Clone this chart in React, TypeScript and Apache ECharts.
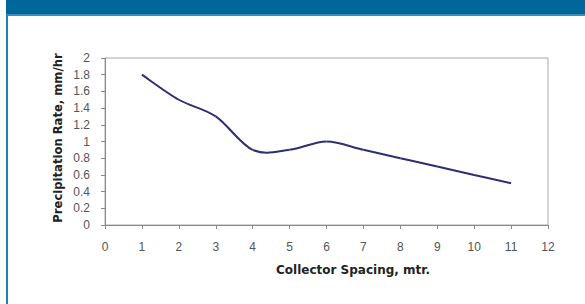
import React, { useEffect, useRef } from "react";
import * as echarts from "echarts";

const spacing = [1, 2, 3, 4, 5, 6, 7, 8, 9, 10, 11];
const rate = [1.8, 1.5, 1.3, 0.9, 0.9, 1.0, 0.9, 0.8, 0.7, 0.6, 0.5];
const xTitle = "Collector Spacing, mtr.";
const yTitle = "Precipitation Rate, mm/hr";

export default function App() {
  const ref = useRef<HTMLDivElement>(null);
  useEffect(() => {
    if (!ref.current) return;
    const chart = echarts.init(ref.current, undefined, { renderer: "svg" });
    const font = "'Liberation Sans', Arial, sans-serif";
    const titleFont = "'DejaVu Sans', sans-serif";
    const n = spacing.length;
    const tension = 1 / 6;
    chart.setOption({
      animation: false,
      backgroundColor: "#ffffff",
      grid: {
        left: 105,
        right: 37,
        top: 58,
        bottom: 79,
        show: true,
        borderColor: "#a8a8a8",
        borderWidth: 1,
      },
      xAxis: {
        type: "value",
        min: 0,
        max: 12,
        interval: 1,
        splitLine: { show: false },
        axisLine: { lineStyle: { color: "#8a8a8a", width: 1 } },
        axisTick: { show: true, length: 4, lineStyle: { color: "#8a8a8a" } },
        axisLabel: { color: "#555", fontSize: 12, fontFamily: font, margin: 16 },
      },
      yAxis: {
        type: "value",
        min: 0,
        max: 2,
        interval: 0.2,
        splitLine: { show: false },
        axisLine: { show: true, lineStyle: { color: "#8a8a8a", width: 1 } },
        axisTick: { show: true, length: 4, lineStyle: { color: "#8a8a8a" } },
        axisLabel: { color: "#555", fontSize: 12, fontFamily: font, margin: 15 },
      },
      series: [
        {
          type: "custom",
          data: spacing.map((x, i) => [x, rate[i]]),
          encode: { x: 0, y: 1 },
          renderItem: (params: any, api: any) => {
            const i = params.dataIndex;
            if (i >= n - 1) return null;
            const p = (k: number) => {
              const j = Math.max(0, Math.min(n - 1, k));
              return api.coord([spacing[j], rate[j]]);
            };
            const p0 = p(i - 1);
            const p1 = p(i);
            const p2 = p(i + 1);
            const p3 = p(i + 2);
            return {
              type: "bezierCurve",
              shape: {
                x1: p1[0],
                y1: p1[1],
                x2: p2[0],
                y2: p2[1],
                cpx1: p1[0] + (p2[0] - p0[0]) * tension,
                cpy1: p1[1] + (p2[1] - p0[1]) * tension,
                cpx2: p2[0] - (p3[0] - p1[0]) * tension,
                cpy2: p2[1] - (p3[1] - p1[1]) * tension,
              },
              style: { stroke: "#2e2e72", lineWidth: 2, fill: "none" },
            };
          },
        },
      ],
      graphic: [
        { type: "rect", shape: { x: 6, y: 0, width: 579, height: 15 }, style: { fill: "#00679b" } },
        { type: "rect", shape: { x: 6, y: 14, width: 579, height: 2 }, style: { fill: "#3b8dbd" } },
        { type: "rect", shape: { x: 6, y: 15, width: 2, height: 289 }, style: { fill: "#1f7fb5" } },
        {
          type: "text",
          x: 353,
          y: 270,
          style: {
            text: xTitle,
            fontSize: 12,
            fontWeight: "bold",
            fontFamily: titleFont,
            fill: "#222",
            align: "center",
            verticalAlign: "middle",
          },
        },
        {
          type: "text",
          x: 58,
          y: 138,
          rotation: Math.PI / 2,
          style: {
            text: yTitle,
            fontSize: 11.6,
            fontWeight: "bold",
            fontFamily: titleFont,
            fill: "#222",
            align: "center",
            verticalAlign: "middle",
          },
        },
      ],
    });
    return () => chart.dispose();
  }, []);
  return (
    <div
      ref={ref}
      style={{ position: "fixed", left: 0, top: 0, width: 585, height: 304 }}
    />
  );
}
